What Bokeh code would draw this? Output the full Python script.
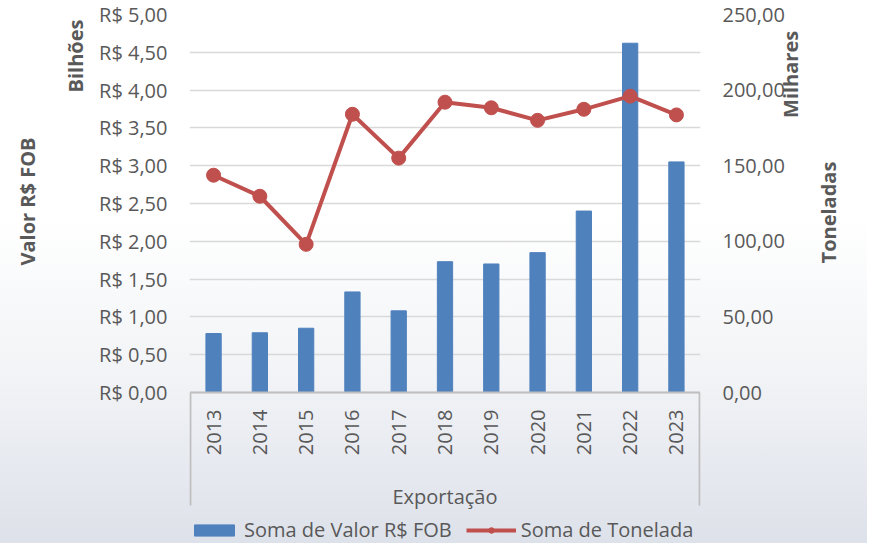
import math
from bokeh.plotting import figure
from bokeh.models import (Range1d, LinearAxis, FixedTicker, Legend, LegendItem, Grid, Title)
from bokeh.core.properties import value
from bokeh.embed import file_html
from bokeh.resources import INLINE

# ---- data ----
years = ["2013", "2014", "2015", "2016", "2017", "2018",
         "2019", "2020", "2021", "2022", "2023"]
valor_fob_bi = [0.78, 0.79, 0.85, 1.33, 1.08, 1.73, 1.70, 1.85, 2.40, 4.62, 3.05]
toneladas_mil = [143.7, 129.8, 98.0, 184.0, 155.0, 192.0, 188.3, 180.0, 187.3, 196.0, 183.6]

left_ticks = [0.0, 0.5, 1.0, 1.5, 2.0, 2.5, 3.0, 3.5, 4.0, 4.5, 5.0]
left_tick_labels = ["R$ 0,00", "R$ 0,50", "R$ 1,00", "R$ 1,50", "R$ 2,00", "R$ 2,50",
                    "R$ 3,00", "R$ 3,50", "R$ 4,00", "R$ 4,50", "R$ 5,00"]
right_ticks = [0, 50, 100, 150, 200, 250]
right_tick_labels = ["0,00", "50,00", "100,00", "150,00", "200,00", "250,00"]

group_label = "Exportação"
series_names = ["Soma de Valor R$ FOB", "Soma de Tonelada"]
left_title = "Valor R$ FOB"
left_unit = "Bilhões"
right_title = "Toneladas"
right_unit = "Milhares"

# ---- style / geometry ----
FONT = "Open Sans"
TXT = "#595959"
BLUE = "#4f81bd"
RED = "#c0504d"
BOX = "#bfbfbf"

W, H = 867, 543
TOP = 14                 # frame top (px)
ZERO_PX = 392            # pixel row of the value axis zero
ymax_l = left_ticks[-1]
ymax_r = right_ticks[-1]
ppu = (ZERO_PX - TOP) / ymax_l            # pixels per left unit
ymin_l = -(H - ZERO_PX) / ppu             # frame extends below zero for the category box
ymin_r = ymin_l * ymax_r / ymax_l

def px_below(d):          # value that lies d pixels below zero
    return -d / ppu

n = len(years)
xpos = [i + 0.5 for i in range(n)]       # category slot centres
pad = 0.02

p = figure(width=W, height=H, x_range=Range1d(-pad, n + pad),
           y_range=Range1d(ymin_l, ymax_l),
           output_backend="svg", toolbar_location=None,
           x_axis_location=None, y_axis_location=None,
           min_border_left=186, min_border_right=167,
           min_border_top=TOP, min_border_bottom=0,
           outline_line_color=None,
           border_fill_color=None, background_fill_color=None)
p.styles = {"background": "linear-gradient(to bottom, #ffffff 0%, #ffffff 40%, #f1f3f6 70%, #e4e7ee 90%, #dde1e9 100%)"}

p.extra_y_ranges = {"right": Range1d(ymin_r, ymax_r)}

p.center = [c for c in p.center if not isinstance(c, Grid)]
grid = Grid(dimension=1, ticker=FixedTicker(ticks=left_ticks),
            grid_line_color="#d9d9d9", grid_line_width=1.5)
p.add_layout(grid)

bars = p.vbar(x=xpos, top=valor_fob_bi, width=0.33, color=BLUE)
line = p.line(x=xpos, y=toneladas_mil, y_range_name="right",
              line_color=RED, line_width=4)
dots = p.scatter(x=xpos, y=toneladas_mil, y_range_name="right",
                 size=14, color=RED)

# category axis line and group box
box_bottom = px_below(113)
p.segment(x0=[0, 0, n], y0=[0, 0, 0], x1=[n, 0, n], y1=[0, box_bottom, box_bottom],
          line_color=BOX, line_width=2)
# category labels (rotated) and group label
p.text(x=xpos, y=[px_below(17)] * n, text=years, angle=math.pi / 2,
       text_align="right", text_baseline="middle", text_font=value(FONT),
       text_font_size="20px", text_color=TXT)
p.text(x=[n / 2], y=[px_below(104)], text=[group_label],
       text_align="center", text_baseline="middle", text_font=value(FONT),
       text_font_size="20px", text_color=TXT)

tick_style = dict(axis_line_color=None, major_tick_line_color=None,
                  minor_tick_line_color=None, major_tick_out=0, minor_tick_out=0,
                  major_label_text_font=FONT, major_label_text_font_size="20px",
                  major_label_text_color=TXT)
title_style = dict(axis_label_text_font=FONT, axis_label_text_font_size="20px",
                   axis_label_text_font_style="bold", axis_label_text_color=TXT)
has_orient = "axis_label_orientation" in LinearAxis.properties()
NBSP = "\u00a0"

def title_axis(text, standoff, lead, **kw):
    ax = LinearAxis(ticker=FixedTicker(ticks=[]), major_label_standoff=0,
                    axis_label=NBSP * lead + text, axis_label_standoff=standoff,
                    **tick_style, **title_style, **kw)
    if has_orient:
        ax.axis_label_orientation = math.pi / 2
    return ax

def side_title(text, offset, standoff):
    return Title(text=text, align="right", offset=offset, standoff=standoff,
                 text_font=FONT, text_font_size="20px", text_font_style="bold",
                 text_color=TXT)

# left side: tick labels, unit, title (from the frame outwards)
lax = LinearAxis(ticker=FixedTicker(ticks=left_ticks),
                 major_label_overrides=dict(zip(left_ticks, left_tick_labels)),
                 major_label_standoff=22, **tick_style)
p.add_layout(lax, "left")
p.add_layout(side_title(left_unit, 5, 16), "left")
p.add_layout(side_title(left_title, 123, 22), "left")

# right side
rax = LinearAxis(y_range_name="right", ticker=FixedTicker(ticks=right_ticks),
                 major_label_overrides=dict(zip(right_ticks, right_tick_labels)),
                 major_label_standoff=22, **tick_style)
p.add_layout(rax, "right")
p.add_layout(title_axis(right_unit, 3, 31, y_range_name="right"), "right")
p.add_layout(title_axis(right_title, 8, 3, y_range_name="right"), "right")

legend = Legend(items=[LegendItem(label=series_names[0], renderers=[bars]),
                       LegendItem(label=series_names[1], renderers=[line, dots])],
                orientation="horizontal", location=(0, 0),
                glyph_width=50, glyph_height=14, label_standoff=5, spacing=14,
                padding=0, margin=0, border_line_color=None,
                background_fill_alpha=0,
                label_text_font=FONT, label_text_font_size="20px",
                label_text_color=TXT)
p.add_layout(legend)

open("out.html", "w").write(file_html(p, INLINE))
